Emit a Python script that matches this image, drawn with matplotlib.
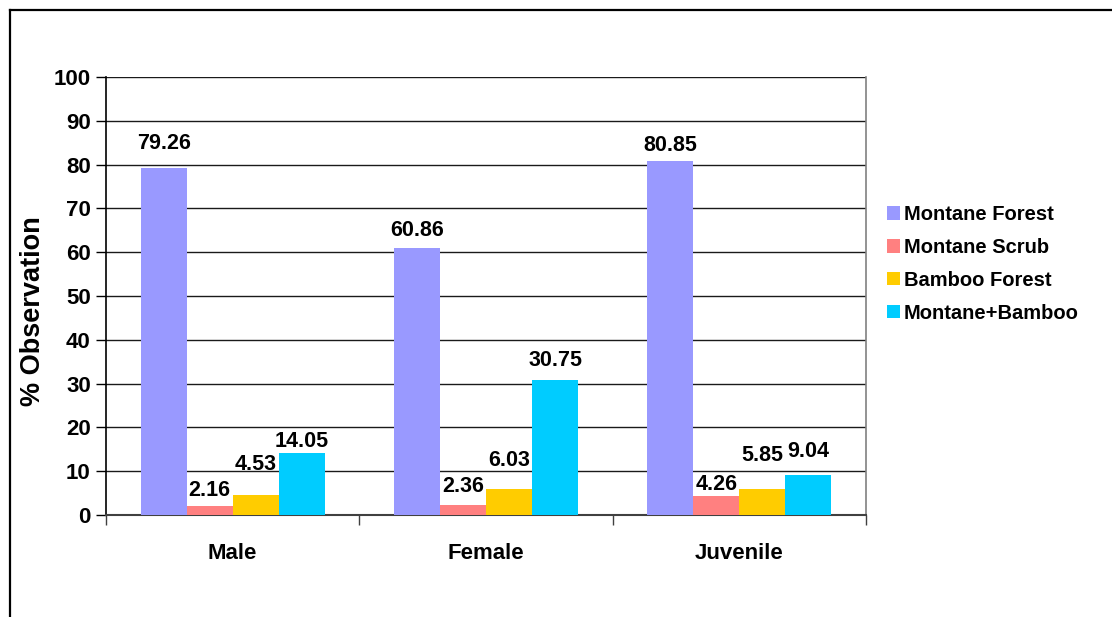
import matplotlib
matplotlib.use("Agg")
import matplotlib.pyplot as plt
from matplotlib.lines import Line2D
from matplotlib.patches import Patch
import numpy as np

# Data
groups = ["Male", "Female", "Juvenile"]
habitats = ["Montane Forest", "Montane Scrub", "Bamboo Forest", "Montane+Bamboo"]
montane_forest = [79.26, 60.86, 80.85]
montane_scrub = [2.16, 2.36, 4.26]
bamboo_forest = [4.53, 6.03, 5.85]
montane_bamboo = [14.05, 30.75, 9.04]
y_ticks = [0, 10, 20, 30, 40, 50, 60, 70, 80, 90, 100]

series = [montane_forest, montane_scrub, bamboo_forest, montane_bamboo]
colors = ["#9999FF", "#FF8080", "#FFCC00", "#00CCFF"]
# vertical gap (pixels) between each value label baseline and its bar top
label_gap_px = [[19, 10, 25, 6], [12, 13, 23, 14], [10, 6, 28, 18]]

plt.rcParams["font.family"] = ["Liberation Sans", "DejaVu Sans"]
plt.rcParams["font.weight"] = "bold"

fig = plt.figure(figsize=(11.12, 6.17), dpi=100)
fig.patch.set_facecolor("white")
ax = fig.add_axes([106 / 1112, 1 - 515 / 617, (866 - 106) / 1112, (515 - 77) / 617])

n = len(habitats)
bar_w = 1.0 / (n + 1.5)
x = np.arange(len(groups))
for i, (vals, col) in enumerate(zip(series, colors)):
    pos = x - (n / 2) * bar_w + (i + 0.5) * bar_w
    bars = ax.bar(pos, vals, width=bar_w, color=col, edgecolor="none", zorder=3,
                  label=habitats[i])
    for j, (b, v) in enumerate(zip(bars, vals)):
        ax.annotate(f"{v:.2f}", (b.get_x() + b.get_width() / 2, v),
                    xytext=(0, label_gap_px[j][i]), textcoords="offset pixels",
                    ha="center", va="baseline", fontsize=15.5, fontweight="bold",
                    color="black", zorder=4)

ax.set_xlim(-0.5, len(groups) - 0.5)
ax.set_ylim(0, 100)
ax.set_yticks(y_ticks)
ax.yaxis.grid(True, color="#1a1a1a", linewidth=1.0, zorder=0)
ax.set_axisbelow(True)

# category boundaries carry the ticks, labels sit at the centres
ax.set_xticks(np.arange(-0.5, len(groups), 1.0))
ax.set_xticklabels([])
ax.set_xticks(x, minor=True)
ax.set_xticklabels(groups, minor=True, fontsize=16, fontweight="bold")
ax.tick_params(axis="x", which="major", direction="out", length=7, width=1, color="#404040")
ax.tick_params(axis="x", which="minor", length=0, pad=20)
ax.tick_params(axis="y", direction="out", length=7, width=1, pad=4, labelsize=16, color="black")
for lab in ax.get_yticklabels():
    lab.set_fontweight("bold")

ax.spines["top"].set_visible(False)
ax.spines["left"].set_color("black")
ax.spines["left"].set_linewidth(1.2)
ax.spines["bottom"].set_color("#404040")
ax.spines["bottom"].set_linewidth(1.5)
ax.spines["right"].set_color("#808080")
ax.spines["right"].set_linewidth(1.2)

ax.set_ylabel("% Observation", fontsize=19.5, fontweight="bold")
ax.yaxis.label.set_va("center")
ax.yaxis.set_label_coords((33 - 106) / 760, (515 - 311) / 438)

handles = [Patch(facecolor=c, edgecolor="none") for c in colors]
leg = fig.legend(handles, habitats, loc="upper left", bbox_to_anchor=(887 / 1112, 1 - 205 / 617),
                 frameon=False, fontsize=14.5, handlelength=0.65, handleheight=0.65,
                 handletextpad=0.2, labelspacing=0.69, borderaxespad=0, borderpad=0)
for t in leg.get_texts():
    t.set_fontweight("bold")

# outer chart border (left and top edges)
fig.add_artist(Line2D([9.5 / 1112, 9.5 / 1112], [0, 1 - 9.5 / 617], transform=fig.transFigure,
                      color="black", linewidth=1.6))
fig.add_artist(Line2D([9.5 / 1112, 1], [1 - 9.5 / 617, 1 - 9.5 / 617], transform=fig.transFigure,
                      color="black", linewidth=1.6))

fig.savefig("out.png", dpi=100, facecolor="white")
